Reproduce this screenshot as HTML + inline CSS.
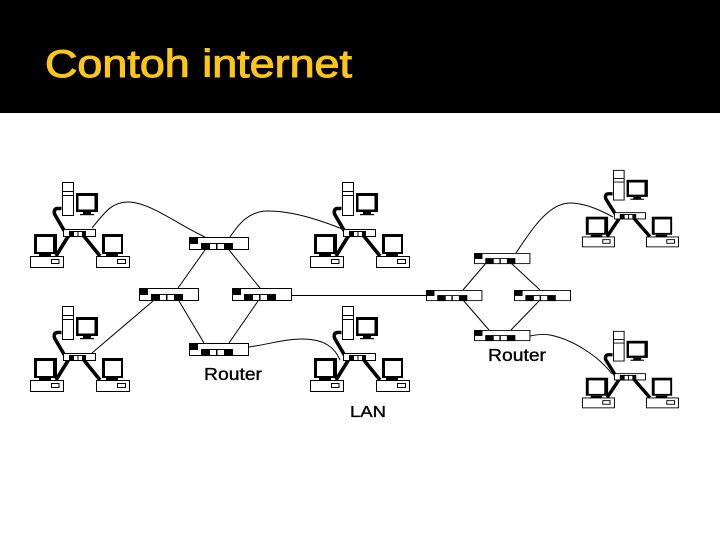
<!DOCTYPE html>
<html><head><meta charset="utf-8"><style>html,body{margin:0;padding:0;background:#fff;width:720px;height:540px;overflow:hidden}svg{display:block}</style></head>
<body>
<svg width="720" height="540" viewBox="0 0 720 540" xmlns="http://www.w3.org/2000/svg">
<defs>
<g id="lan">
  <path d="M0.5,27.5 H-4 Q-7.5,28 -6.5,33 L4,51" fill="none" stroke="#000" stroke-width="3.6"/>
  <path d="M8,54 L-5,75 M22,54 L39,75" fill="none" stroke="#000" stroke-width="3.6"/>
  <rect x="1.5" y="1.5" width="11" height="33" fill="#fff" stroke="#000"/>
  <path d="M1.5,10.5 H12.5 M1.5,14.5 H12.5" stroke="#000" fill="none"/>
  <rect x="15" y="12" width="22" height="19" fill="#000"/>
  <rect x="17.5" y="15" width="16" height="13.5" fill="#fff"/>
  <rect x="22" y="31" width="8" height="3" fill="#000"/>
  <rect x="19" y="33" width="14" height="1.2" fill="#000"/>
  <rect x="2.5" y="48.5" width="32" height="7" fill="#fff" stroke="#000"/>
  <rect x="8" y="50" width="17" height="6" fill="#000"/>
  <rect x="13" y="51" width="3.5" height="4" fill="#fff"/>
  <rect x="17.5" y="51" width="3.5" height="4" fill="#fff"/>
  <rect x="-27" y="53" width="23" height="20" fill="#000"/>
  <rect x="-24" y="56" width="16" height="15" fill="#fff"/>
  <rect x="-22" y="73" width="12" height="2" fill="#000"/>
  <rect x="-30.5" y="75.5" width="33" height="11" fill="#fff" stroke="#000"/>
  <rect x="-9.5" y="78.5" width="7.5" height="4" fill="#fff" stroke="#000"/>
  <rect x="41" y="53" width="21" height="20" fill="#000"/>
  <rect x="44" y="56" width="16" height="15" fill="#fff"/>
  <rect x="45" y="73" width="12" height="2" fill="#000"/>
  <rect x="35.5" y="75.5" width="33" height="11" fill="#fff" stroke="#000"/>
  <rect x="56.5" y="78.5" width="8" height="4" fill="#fff" stroke="#000"/>
</g>
<g id="router">
  <rect x="0.5" y="0.5" width="59" height="12" fill="#fff" stroke="#000"/>
  <rect x="0" y="0" width="9" height="7" fill="#000"/>
  <rect x="12" y="6" width="32" height="7" fill="#000"/>
  <rect x="21" y="7" width="6" height="5" fill="#fff"/>
  <rect x="28.5" y="7" width="6.5" height="5" fill="#fff"/>
</g>
</defs>
<rect x="0" y="0" width="720" height="113" fill="#000"/>
<text x="45" y="77" font-family="'Liberation Sans',sans-serif" font-size="39" fill="#fbc615" stroke="#fbc615" stroke-width="1" textLength="307" lengthAdjust="spacingAndGlyphs">Contoh internet</text>

<g fill="none" stroke="#000" stroke-width="1">
  <path d="M92,228 C105,212 112,202 128,202 C150,202 180,226 205,237"/>
  <path d="M230,237 C240,222 250,211 268,211 C295,211 325,222 345,230"/>
  <path d="M178,288 L205,250 M229,250 L260,288 M179,301 L204,343 M258,301 L229,343"/>
  <path d="M153,301 L92,353"/>
  <path d="M249,347 C270,344 285,339 302,339 C325,339 335,348 340,360"/>
  <path d="M292,295.5 H426"/>
  <path d="M516,253 C530,232 548,203 570,203 C585,203 600,210 613,217"/>
  <path d="M486,263 L463,290 M511,263 L540,290 M463,300 L489,330 M540,300 L511,330"/>
  <path d="M530,336 C540,334 545,334 550,335 C575,340 600,358 612,374"/>
</g>

<use href="#lan" x="61" y="181"/>
<use href="#lan" x="341" y="181"/>
<use href="#lan" x="61" y="305"/>
<use href="#lan" x="341" y="305"/>
<g transform="translate(612,169) scale(.97,.9)"><use href="#lan"/></g>
<g transform="translate(612,330) scale(.97,.9)"><use href="#lan"/></g>

<use href="#router" x="189" y="237"/>
<use href="#router" x="139" y="288"/>
<use href="#router" x="232" y="288"/>
<use href="#router" x="189" y="343"/>
<g transform="translate(474,253) scale(.94,.85)"><use href="#router"/></g>
<g transform="translate(426,290) scale(.94,.85)"><use href="#router"/></g>
<g transform="translate(514,290) scale(.95,.85)"><use href="#router"/></g>
<g transform="translate(474,330) scale(.94,.85)"><use href="#router"/></g>

<g font-family="'Liberation Sans',sans-serif" fill="#000" stroke="#000" stroke-width=".35">
  <text x="204" y="380" font-size="17.5" textLength="58" lengthAdjust="spacingAndGlyphs">Router</text>
  <text x="488" y="361" font-size="17.5" textLength="58" lengthAdjust="spacingAndGlyphs">Router</text>
  <text x="350" y="417" font-size="16" textLength="36" lengthAdjust="spacingAndGlyphs">LAN</text>
</g>
</svg>
</body></html>
